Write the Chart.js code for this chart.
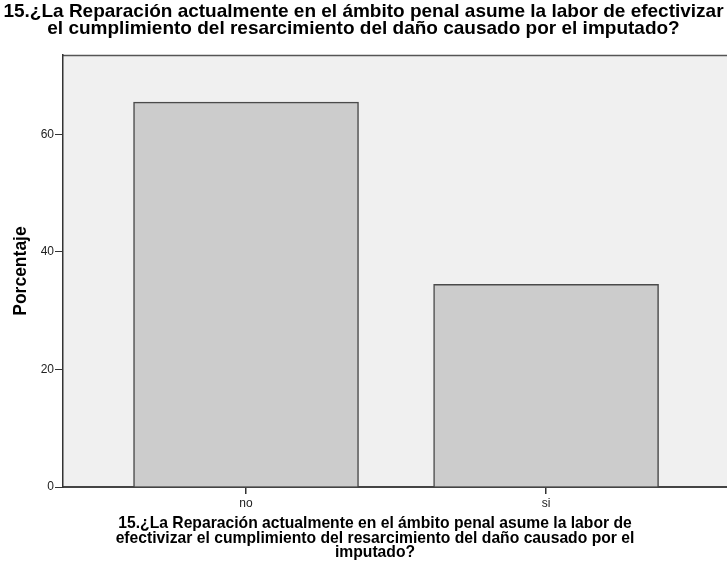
<!DOCTYPE html>
<html>
<head>
<meta charset="utf-8">
<script src="https://cdn.jsdelivr.net/npm/chart.js@4"></script>
<style>
	html, body { margin: 0; padding: 0; background: #fff; overflow: hidden; }
	#wrap { width: 727px; height: 573px; }
</style>
</head>
<body>
<div id="wrap"><canvas id="chart" width="727" height="573"></canvas></div>
<script>
var categories = ["no", "si"];
var percentages = [65.5, 34.5];
var yTickValues = [0, 20, 40, 60];
var chartTitle = [
	"15.¿La Reparación actualmente en el ámbito penal asume la labor de efectivizar",
	"el cumplimiento del resarcimiento del daño causado por el imputado?"
];
var xAxisTitle = [
	"15.¿La Reparación actualmente en el ámbito penal asume la labor de",
	"efectivizar el cumplimiento del resarcimiento del daño causado por el",
	"imputado?"
];
var yAxisTitle = "Porcentaje";

const FONT = "'Liberation Sans', Arial, sans-serif";

//* grey plot background + top frame line, like SPSS output
const plotBackground = {
	id: "plotBackground",
	beforeDraw(chart) {
		const { ctx, chartArea: a } = chart;
		ctx.save();
		ctx.fillStyle = "#f0f0f0";
		ctx.fillRect(a.left, a.top, a.right - a.left, a.bottom - a.top);
		ctx.strokeStyle = "#555";
		ctx.lineWidth = 1.5;
		ctx.beginPath();
		ctx.moveTo(a.left, a.top + 0.5);
		ctx.lineTo(a.right, a.top + 0.5);
		ctx.stroke();
		ctx.restore();
	},
};

//* x title is not centred on the plot in the original, so draw it here
const xTitlePlugin = {
	id: "xTitlePlugin",
	afterDraw(chart) {
		const ctx = chart.ctx;
		ctx.save();
		ctx.fillStyle = "#000";
		ctx.font = "bold 15.7px " + FONT;
		ctx.textAlign = "center";
		ctx.textBaseline = "middle";
		xAxisTitle.forEach(function (line, i) {
			ctx.fillText(line, 375, 524 + i * 14.5);
		});
		ctx.restore();
	},
};

const config = {
	type: "bar",
	data: {
		datasets: [
			{
				data: categories.map((c, i) => ({ x: i + 1, y: percentages[i] })),
				backgroundColor: "#cccccc",
				borderColor: "#4a4a4a",
				borderWidth: 1.5,
				barThickness: 225,
			},
		],
	},
	options: {
		responsive: false,
		animation: false,
		layout: { padding: 0 },
		plugins: {
			legend: { display: false },
			tooltip: { enabled: false },
			title: {
				display: true,
				text: chartTitle,
				color: "#000",
				font: { family: FONT, size: 19, weight: "bold", lineHeight: 0.87 },
				padding: { top: 4, bottom: 18 },
			},
		},
		scales: {
			x: {
				type: "linear",
				min: 0.39,
				max: 2.603,
				offset: false,
				afterBuildTicks: (scale) => {
					scale.ticks = categories.map((c, i) => ({ value: i + 1 }));
				},
				afterFit: (scale) => {
					scale.height = 86;
				},
				ticks: {
					autoSkip: false,
					maxRotation: 0,
					padding: 2,
					color: "#222",
					font: { family: FONT, size: 12 },
					callback: (value) => categories[value - 1],
				},
				grid: { offset: false, drawOnChartArea: false, tickLength: 7, color: "#333", lineWidth: 1.5 },
				border: { color: "#444", width: 2 },
			},
			y: {
				min: 0,
				max: 73.5,
				afterBuildTicks: (scale) => {
					scale.ticks = yTickValues.map((v) => ({ value: v }));
				},
				afterFit: (scale) => {
					scale.width = 63;
				},
				ticks: {
					padding: 1,
					color: "#222",
					font: { family: FONT, size: 12 },
				},
				grid: { drawOnChartArea: false, tickLength: 8, color: "#333" },
				border: { color: "#333", width: 1.5 },
				title: {
					display: true,
					text: yAxisTitle,
					color: "#000",
					font: { family: FONT, size: 17.5, weight: "bold" },
					padding: { top: 11, bottom: 0 },
				},
			},
		},
	},
	plugins: [plotBackground, xTitlePlugin],
};

var chart = new Chart(document.getElementById("chart"), config);
</script>
</body>
</html>
